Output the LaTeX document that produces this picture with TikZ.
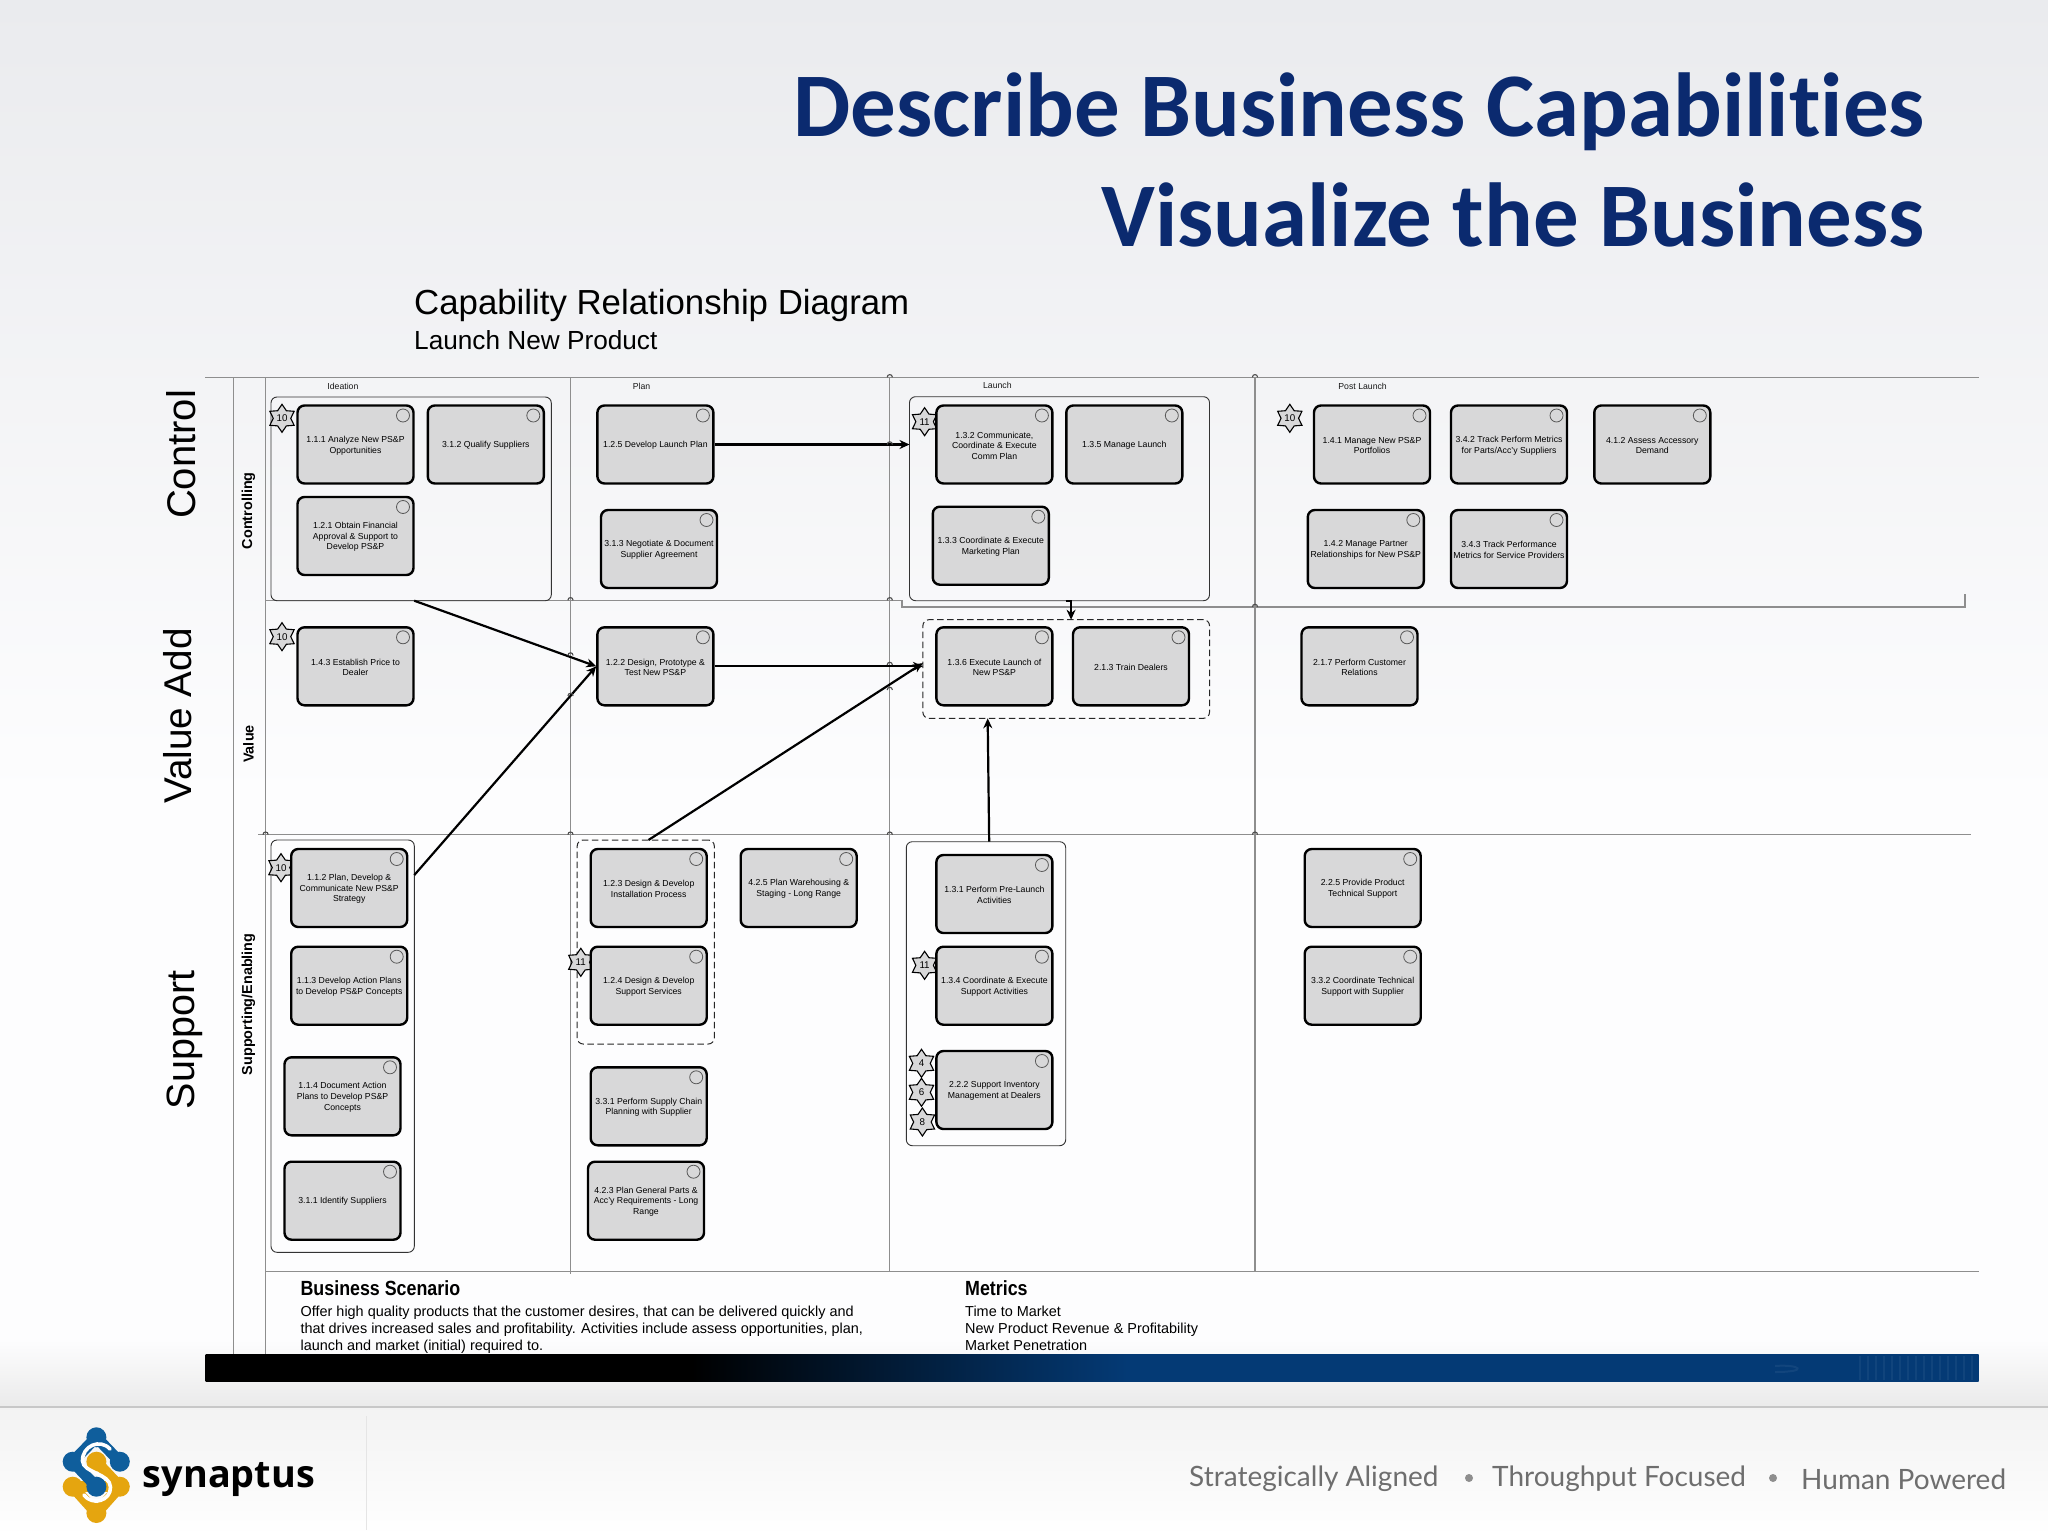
\documentclass[tikz,border=0pt]{standalone}
\usepackage{fontspec}
\setmainfont{Liberation Sans}
\newfontfamily\titlefont[Ligatures=NoCommon]{Carlito}
\newfontfamily\logofont{Open Sans}
\newfontfamily\tagfont{Lato}
\usetikzlibrary{shapes.geometric,calc,arrows.meta}
\definecolor{navy}{HTML}{0B2A6F}
\definecolor{barblue}{HTML}{043A75}
\definecolor{boxgrey}{HTML}{D8D8D9}
\definecolor{gridgrey}{HTML}{8E8E8E}
\definecolor{logoblue}{HTML}{0F5E9C}
\definecolor{logoorange}{HTML}{E5A50F}
\definecolor{tagtext}{HTML}{6E6E6E}
\definecolor{bgtop}{HTML}{EAEBEE}
\definecolor{bgmid}{HTML}{FDFDFE}
\pgfdeclarehorizontalshading{barshade}{100bp}{color(0bp)=(black); color(38.7bp)=(black); color(51bp)=(barblue); color(100bp)=(barblue)}
\tikzset{
  capnode/.style={draw=black,fill=boxgrey,line width=2.4pt,rounded corners=7pt,minimum width=116pt,minimum height=78pt,inner sep=0pt,align=center,font=\fontsize{8.7}{10.6}\selectfont,text=black},
  capmark/.style={circle,draw=black!65,line width=.8pt,minimum size=13pt,inner sep=0pt},
  solidframe/.style={draw=black!80,line width=.9pt,rounded corners=6pt,inner sep=0pt,outer sep=0pt},
  dashframe/.style={draw=black!85,line width=1pt,dash pattern=on 6.5pt off 3.5pt,rounded corners=6pt,inner sep=0pt,outer sep=0pt},
  flagstar/.style={star,star points=6,star point ratio=1.6,draw=black,line width=1.1pt,fill=boxgrey,minimum size=28pt,inner sep=0pt},
  flow/.style={draw=black,line width=2.2pt,-{Stealth[length=10pt,width=9pt]}},
  gridline/.style={draw=gridgrey,line width=1.1pt},
  phase/.style={font=\fontsize{8.7}{10}\selectfont,text=black!90},
  lane/.style={rotate=90,font=\bfseries\fontsize{14.4}{15}\selectfont},
  biglane/.style={rotate=90,font=\fontsize{40}{45}\selectfont},
  bodytext/.style={anchor=base west,inner sep=0pt,font=\fontsize{14.45}{16}\selectfont},
  headtext/.style={anchor=base west,inner sep=0pt,font=\bfseries\fontsize{20.5}{22}\selectfont},
  tagline/.style={anchor=west,inner sep=0pt,font=\tagfont\fontsize{28}{30}\selectfont,text=tagtext},
  tagdot/.style={circle,fill=gridgrey,inner sep=0pt,minimum size=8pt},
  titleline/.style={anchor=base east,inner sep=0pt,font=\titlefont\bfseries\fontsize{90.9}{100}\selectfont,text=navy},
}
\newcommand\capabilitybox[4]{%
  \node[capnode] (#1) at ({#2+59},{#3+40}) {\parbox{116pt}{\vspace*{2pt}\centering #4}};
  \node[capmark] (#1m) at ([xshift=47.5pt,yshift=29pt]#1.center) {};}
\newcommand\groupframe[6][solidframe]{%
  \node[#1,minimum width={#5-#3},minimum height={#6-#4}] (#2) at ({(#3+#5)/2},{(#4+#6)/2}) {};}
\newcommand\flagat[4]{%
  \node[flagstar,label={[font=\fontsize{9.8}{10}\selectfont,inner sep=0pt]center:#4}] (#1) at (#2,#3) {};}
\newcommand\jumpat[2]{%
  \draw[line width=1.1pt,black!70] ({#1-2.6},#2) .. controls ({#1-2.6},{#2-3.6}) and ({#1+2.6},{#2-3.6}) .. ({#1+2.6},#2);}
\begin{document}
\begin{tikzpicture}[x=1pt,y=-1pt]
\useasboundingbox (0,0) rectangle (2048,1536);
% background
\fill[white] (0,0) rectangle (2048,1536);
\shade[top color=bgtop,bottom color=bgmid] (0,0) rectangle (2048,800);
\fill[bgmid] (0,799) rectangle (2048,1341);
\shade[top color=bgmid,bottom color=black!8] (0,1340) rectangle (2048,1406);
\shade[top color=black!5,bottom color=white] (0,1407) rectangle (2048,1536);
\draw[black!22,line width=1.6pt] (0,1406.7) -- (2048,1406.7);
\draw[black!10,line width=1pt] (366.6,1416) -- (366.6,1530);
% title
\node[titleline] (title1) at (1925,136) {Describe Business Capabilities};
\node[titleline] (title2) at (1925,246) {Visualize the Business};
\node[anchor=west,inner sep=0pt,font=\fontsize{34.8}{38}\selectfont] (sub1) at (414,305.5) {Capability Relationship Diagram};
\node[anchor=west,inner sep=0pt,font=\fontsize{26.2}{30}\selectfont] (sub2) at (414,340) {Launch New Product};
% side labels
\node[biglane] (sc) at (181.5,454.5) {Control};
\node[biglane,font=\fontsize{38.7}{45}\selectfont] (sv) at (177.6,716) {Value Add};
\node[biglane,font=\fontsize{39.5}{45}\selectfont] (ss) at (185,1040) {Support};
\node[lane] (lc) at (248.5,510.7) {Controlling};
\node[lane] (lv) at (248.5,744) {Value};
\node[lane] (ls) at (248.5,1004.3) {Supporting/Enabling};
% grid
\draw[gridline] (205,377.3) -- (1978.5,377.3);
\draw[gridline] (265.6,600.3) -- (902,600.3) -- (902,607) -- (1965,607) -- (1965,594);
\draw[gridline] (258,834.7) -- (1971,834.7);
\draw[gridline] (265.6,1271.7) -- (1978.5,1271.7);
\draw[gridline,line width=.9pt] (233.5,377.3) -- (233.5,1354);
\draw[gridline,line width=.9pt] (265.6,377.3) -- (265.6,1354);
\draw[gridline] (570.5,377.3) -- (570.5,1274);
\draw[gridline] (889.8,377.3) -- (889.8,1272);
\draw[gridline] (1255,377.3) -- (1255,1272);
% phases
\node[phase] (p1) at (342.9,386) {Ideation};
\node[phase] (p2) at (641.5,386) {Plan};
\node[phase] (p3) at (997.4,385) {Launch};
\node[phase] (p4) at (1362.6,386) {Post Launch};
% frames
\groupframe{g1}{271}{397}{551.3}{600.7}
\groupframe{g2}{909.5}{396.7}{1209.5}{600.7}
\groupframe[dashframe]{g3}{922.9}{619.7}{1209.5}{718.3}
\groupframe{g4}{271}{840}{414.3}{1252.3}
\groupframe[dashframe]{g5}{577.2}{840}{714.3}{1044}
\groupframe{g6}{906.3}{841.7}{1065.7}{1145.7}
% stars
\flagat{s1}{282}{418.3}{10}
\flagat{s2}{282}{636.7}{10}
\flagat{s3}{924.6}{421.7}{11}
\flagat{s4}{1289.8}{418.3}{10}
\flagat{s5}{281}{867.7}{10}
\flagat{s6}{580.8}{962.3}{11}
\flagat{s7}{924.6}{965.3}{11}
\flagat{s8}{921.5}{1063.3}{4}
\flagat{s9}{921.5}{1092.3}{6}
\flagat{s10}{922.4}{1122}{8}
% capability boxes
\capabilitybox{b111}{296.5}{404.5}{1.1.1 Analyze New PS\&P\\Opportunities}
\capabilitybox{b312}{426.8}{404.5}{3.1.2 Qualify Suppliers}
\capabilitybox{b121}{296.5}{496}{1.2.1 Obtain Financial\\Approval \& Support to\\Develop PS\&P}
\capabilitybox{b125}{596.4}{404.5}{1.2.5 Develop Launch Plan}
\capabilitybox{b313}{600}{509}{3.1.3 Negotiate \& Document\\Supplier Agreement}
\capabilitybox{b143}{296.5}{626.3}{1.4.3 Establish Price to\\Dealer}
\capabilitybox{b122}{596.4}{626.3}{1.2.2 Design, Prototype \&\\Test New PS\&P}
\capabilitybox{b132}{935.4}{404.5}{1.3.2 Communicate,\\Coordinate \& Execute\\Comm Plan}
\capabilitybox{b135}{1065.3}{404.5}{1.3.5 Manage Launch}
\capabilitybox{b133}{931.8}{505.7}{1.3.3 Coordinate \& Execute\\Marketing Plan}
\capabilitybox{b141}{1313}{404.5}{1.4.1 Manage New PS\&P\\Portfolios}
\capabilitybox{b342}{1450}{404.5}{3.4.2 Track Perform Metrics\\for Parts/Acc'y Suppliers}
\capabilitybox{b412}{1593.3}{404.5}{4.1.2 Assess Accessory\\Demand}
\capabilitybox{b142}{1306.8}{509}{1.4.2 Manage Partner\\Relationships for New PS\&P}
\capabilitybox{b343}{1450}{509}{3.4.3 Track Performance\\Metrics for Service Providers}
\capabilitybox{b136}{935.4}{626.3}{1.3.6 Execute Launch of\\New PS\&P}
\capabilitybox{b213}{1072}{626.3}{2.1.3 Train Dealers}
\capabilitybox{b217}{1300.5}{626.3}{2.1.7 Perform Customer\\Relations}
\capabilitybox{b112}{290.2}{848}{1.1.2 Plan, Develop \&\\Communicate New PS\&P\\Strategy}
\capabilitybox{b113}{290.2}{945.7}{1.1.3 Develop Action Plans\\to Develop PS\&P Concepts}
\capabilitybox{b114}{283.5}{1056.3}{1.1.4 Document Action\\Plans to Develop PS\&P\\Concepts}
\capabilitybox{b311}{283.5}{1160.7}{3.1.1 Identify Suppliers}
\capabilitybox{b123}{589.7}{848}{1.2.3 Design \& Develop\\Installation Process}
\capabilitybox{b124}{589.7}{945.7}{1.2.4 Design \& Develop\\Support Services}
\capabilitybox{b425}{739.7}{848}{4.2.5 Plan Warehousing \&\\Staging - Long Range}
\capabilitybox{b331}{589.7}{1066.3}{3.3.1 Perform Supply Chain\\Planning with Supplier}
\capabilitybox{b423}{587}{1160.7}{4.2.3 Plan General Parts \&\\Acc'y Requirements - Long\\Range}
\capabilitybox{b131}{935.4}{854}{1.3.1 Perform Pre-Launch\\Activities}
\capabilitybox{b134}{935.4}{945.7}{1.3.4 Coordinate \& Execute\\Support Activities}
\capabilitybox{b222}{935.4}{1050}{2.2.2 Support Inventory\\Management at Dealers}
\capabilitybox{b225}{1303.7}{848}{2.2.5 Provide Product\\Technical Support}
\capabilitybox{b332}{1303.7}{945.7}{3.3.2 Coordinate Technical\\Support with Supplier}
% connectors
\draw[flow] ($(g1.south west)!.511!(g1.south east)$) -- (b122.west);
\draw[flow] ($(g4.north east)!.085!(g4.south east)$) -- (b122.west);
\draw[flow] (b125.east) -- (b125.east -| g2.west);
\draw[flow] (b122.east) -- (b122.east -| g3.west);
\draw[flow] ($(g5.north west)!.52!(g5.north east)$) -- ($(g3.north west)!.44!(g3.south west)$);
\draw[flow] ($(g6.north west)!.52!(g6.north east)$) -- ($(g3.south west)!.226!(g3.south east)$);
\draw[flow,line width=1.7pt] ($(g2.south west)!.52!(g2.south east)$) -| ($(g3.north west)!.517!(g3.north east)$);
% crossings
\jumpat{889.8}{444.5}
\jumpat{889.8}{665}
\jumpat{570.5}{655.5}
\jumpat{570.5}{696}
\jumpat{889.8}{690}
\jumpat{570.5}{600.3}
\jumpat{889.8}{600.3}
\jumpat{889.8}{377.3}
\jumpat{1255}{377.3}
\jumpat{1255}{607}
\jumpat{265.6}{834.7}
\jumpat{570.5}{834.7}
\jumpat{889.8}{834.7}
\jumpat{1255}{834.7}
% footer text
\node[headtext] (bs) at (300.4,1295.7) {\scalebox{.87}[1]{Business Scenario}};
\node[bodytext] (bs1) at (300.4,1316) {Offer high quality products that the customer desires, that can be delivered quickly and};
\node[bodytext] (bs2) at (300.4,1333.3) {that drives increased sales and profitability. Activities include assess opportunities, plan,};
\node[bodytext] (bs3) at (300.4,1350.7) {launch and market (initial) required to.};
\node[headtext] (mt) at (965,1295.7) {\scalebox{.87}[1]{Metrics}};
\node[bodytext] (mt1) at (965,1316) {Time to Market};
\node[bodytext] (mt2) at (965,1333.3) {New Product Revenue \& Profitability};
\node[bodytext] (mt3) at (965,1350.7) {Market Penetration};
% bar
\shade[shading=barshade] (205.5,1354) rectangle (1978.7,1381);
\foreach \xx in {1860,1868,...,1972}{\draw[white,opacity=.05,line width=1.5pt] (\xx,1356) -- (\xx,1380);}
\draw[white,opacity=.06,line width=2pt] (1775,1366) .. controls (1800,1364) and (1810,1372) .. (1775,1372);
% logo
\begin{scope}[line cap=round,line join=round]
\draw[logoorange,line width=11pt] (72.7,1486.7) -- (96.4,1513) -- (119.8,1486.7) -- (96.4,1461.7);
\draw[logoorange,line width=11pt] (72.7,1486.7) -- (119.8,1486.7);
\fill[logoorange] (96.4,1513) circle (10) (72.7,1486.7) circle (10) (119.8,1486.7) circle (10) (96.4,1461.7) circle (10);
\draw[logoblue,line width=11pt] (72.7,1461.7) -- (96.4,1437.3) -- (119.8,1461.7);
\draw[logoblue,line width=11pt] (72.7,1461.7) -- (96.4,1486.7);
\fill[logoblue] (96.4,1437.3) circle (10) (72.7,1461.7) circle (10) (119.8,1461.7) circle (10) (96.4,1486.7) circle (10);
\draw[white,line width=3.6pt] (110,1449) .. controls (100,1438) and (82,1446) .. (82.5,1461) .. controls (83,1473) and (110,1473) .. (110.5,1487) .. controls (111,1501) and (92,1506) .. (84,1495);
\end{scope}
\node[anchor=west,inner sep=0pt,font=\logofont\bfseries\fontsize{37.8}{40}\selectfont] (logo) at (142.7,1480) {synaptus};
% tagline
\node[tagline] (t1) at (1189,1479) {Strategically Aligned};
\node[tagline] (t2) at (1492,1479) {Throughput Focused};
\node[tagline] (t3) at (1801,1479) {Human Powered};
\node[tagdot] (d1) at (1469,1478) {};
\node[tagdot] (d2) at (1773,1478) {};
\end{tikzpicture}
\end{document}
